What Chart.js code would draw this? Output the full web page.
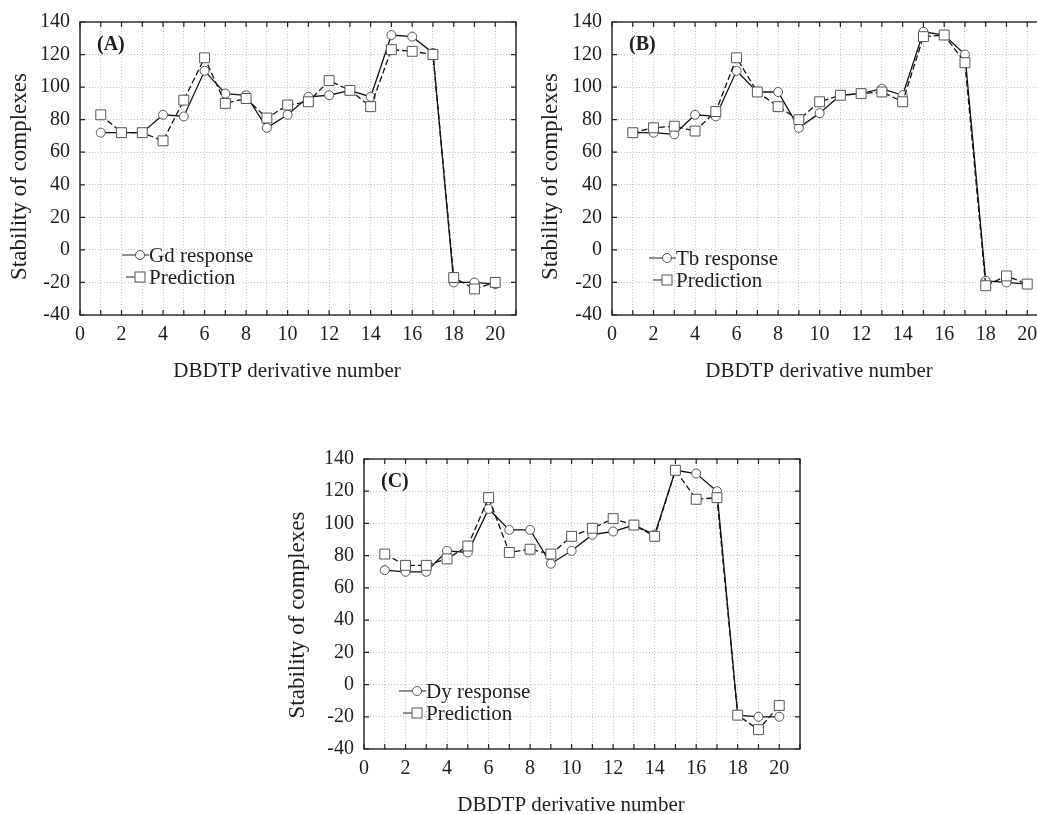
<!DOCTYPE html>
<html>
<head>
<meta charset="utf-8">
<script src="https://cdn.jsdelivr.net/npm/chart.js@4/dist/chart.umd.min.js"></script>
<style>
  html, body { margin: 0; padding: 0; background: #fff; overflow: hidden; }
  body { width: 1037px; height: 814px; position: relative; }
  canvas { position: absolute; }
  #chartA { left: 0px; top: 0px; }
  #chartB { left: 532px; top: 0px; }
  #chartC { left: 284px; top: 437px; }
</style>
</head>
<body>
<canvas id="chartA" width="524" height="387"></canvas>
<canvas id="chartB" width="524" height="387"></canvas>
<canvas id="chartC" width="524" height="384"></canvas>
<script>
const derivatives = [1, 2, 3, 4, 5, 6, 7, 8, 9, 10, 11, 12, 13, 14, 15, 16, 17, 18, 19, 20]

const gdResponse = [72, 72, 72, 83, 82, 110, 96, 95, 75, 83, 94, 95, 98, 94, 132, 131, 121, -20, -20, -21]
const gdPrediction = [83, 72, 72, 67, 92, 118, 90, 93, 81, 89, 91, 104, 98, 88, 123, 122, 120, -17, -24, -20]

const tbResponse = [72, 72, 71, 83, 82, 110, 97, 97, 75, 84, 95, 96, 99, 95, 134, 132, 120, -19, -20, -21]
const tbPrediction = [72, 75, 76, 73, 85, 118, 97, 88, 80, 91, 95, 96, 97, 91, 131, 132, 115, -22, -16, -21]

const dyResponse = [71, 70, 70, 83, 82, 109, 96, 96, 75, 83, 93, 95, 99, 93, 133, 131, 120, -19, -20, -20]
const dyPrediction = [81, 74, 74, 78, 86, 116, 82, 84, 81, 92, 97, 103, 99, 92, 133, 115, 116, -19, -28, -13]

const yTicks = [-40, -20, 0, 20, 40, 60, 80, 100, 120, 140]
const xTickLabels = [0, 2, 4, 6, 8, 10, 12, 14, 16, 18, 20]

const serif = '"Liberation Serif", "Times New Roman", serif'
const textColor = '#1e1e1e'

function toPoints (ys) {
  return derivatives.map((x, i) => ({x: x, y: ys[i]}))
}

// frame, inward ticks, panel label, legend and axis titles
const framePlugin = {
  id: 'frame',
  afterDraw (chart, args, opts) {
    const ctx = chart.ctx
    const area = chart.chartArea
    const xs = chart.scales.x
    const ys = chart.scales.y
    ctx.save()
    ctx.strokeStyle = '#222'
    ctx.lineWidth = 1.4
    ctx.strokeRect(area.left, area.top, area.right - area.left, area.bottom - area.top)

    ctx.lineWidth = 1.2
    ctx.beginPath()
    for (let v = 0; v <= 21; v++) {
      const px = xs.getPixelForValue(v)
      ctx.moveTo(px, area.bottom)
      ctx.lineTo(px, area.bottom - 5)
      ctx.moveTo(px, area.top)
      ctx.lineTo(px, area.top + 5)
    }
    yTicks.forEach((v) => {
      const py = ys.getPixelForValue(v)
      ctx.moveTo(area.left, py)
      ctx.lineTo(area.left + 5, py)
      ctx.moveTo(area.right, py)
      ctx.lineTo(area.right - 5, py)
    })
    ctx.stroke()

    // panel label
    ctx.fillStyle = textColor
    ctx.font = 'bold 20px ' + serif
    ctx.textAlign = 'left'
    ctx.textBaseline = 'middle'
    ctx.fillText(opts.panel, area.left + 17, area.top + 23)

    // legend
    const lx = area.left + opts.legendX
    const ly = area.top + opts.legendY
    ctx.strokeStyle = '#222'
    ctx.lineWidth = 1.2
    ctx.beginPath()
    ctx.moveTo(lx - 18, ly)
    ctx.lineTo(lx + 9, ly)
    ctx.moveTo(lx - 14, ly + 22)
    ctx.lineTo(lx - 5, ly + 22)
    ctx.stroke()
    ctx.fillStyle = '#fff'
    ctx.strokeStyle = '#555'
    ctx.lineWidth = 1
    ctx.beginPath()
    ctx.arc(lx, ly, 4.5, 0, Math.PI * 2)
    ctx.fill()
    ctx.stroke()
    ctx.fillRect(lx - 5, ly + 17, 10, 10)
    ctx.strokeRect(lx - 5, ly + 17, 10, 10)
    ctx.fillStyle = textColor
    ctx.font = '21px ' + serif
    ctx.fillText(opts.seriesName, lx + 9, ly + 1)
    ctx.fillText('Prediction', lx + 9, ly + 23)

    // x title
    ctx.font = '21px ' + serif
    ctx.textAlign = 'center'
    ctx.fillText('DBDTP derivative number', (area.left + area.right) / 2 - 11, area.bottom + 56)

    // y title
    ctx.font = '23px ' + serif
    ctx.translate(area.left + opts.yTitleX, (area.top + area.bottom) / 2 + opts.yTitleDy)
    ctx.rotate(-Math.PI / 2)
    ctx.fillText('Stability of complexes', 0, 0)
    ctx.restore()
  }
}

function makeChart (id, panel, seriesName, response, prediction, legend, yTitle, rightPad) {
  return new Chart(document.getElementById(id), {
    type: 'line',
    data: {
      datasets: [{
        label: 'Prediction',
        data: toPoints(prediction),
        borderColor: '#111',
        borderWidth: 1.3,
        borderDash: [6, 3],
        pointStyle: 'rect',
        pointRadius: 7,
        pointBackgroundColor: '#fff',
        pointBorderColor: '#555',
        pointBorderWidth: 1,
        tension: 0
      }, {
        label: seriesName,
        data: toPoints(response),
        borderColor: '#111',
        borderWidth: 1.3,
        pointStyle: 'circle',
        pointRadius: 4.5,
        pointBackgroundColor: '#fff',
        pointBorderColor: '#555',
        pointBorderWidth: 1,
        tension: 0
      }]
    },
    options: {
      responsive: false,
      animation: false,
      devicePixelRatio: 1,
      layout: {padding: {top: 22, right: rightPad, left: 0, bottom: 0}},
      plugins: {
        legend: {display: false},
        tooltip: {enabled: false},
        frame: {
          panel: panel,
          seriesName: seriesName,
          legendX: legend[0],
          legendY: legend[1],
          yTitleX: yTitle[0],
          yTitleDy: yTitle[1]
        }
      },
      scales: {
        x: {
          type: 'linear',
          min: 0,
          max: 21,
          afterFit: (scale) => {
            scale.height = 72
            scale.paddingLeft = 0
            scale.paddingRight = 0
          },
          grid: {color: '#c4c4c4', lineWidth: 1, drawTicks: false},
          border: {display: false, dash: [1, 2]},
          ticks: {
            stepSize: 1,
            autoSkip: false,
            maxRotation: 0,
            padding: 8,
            color: textColor,
            font: {family: serif, size: 20},
            callback: (v) => xTickLabels.includes(v) ? String(v) : ''
          }
        },
        y: {
          min: -40,
          max: 140,
          afterFit: (scale) => { scale.width = 80 },
          grid: {color: '#c4c4c4', lineWidth: 1, drawTicks: false},
          border: {display: false, dash: [1, 2]},
          ticks: {
            stepSize: 20,
            padding: 10,
            color: textColor,
            font: {family: serif, size: 20}
          }
        }
      }
    },
    plugins: [framePlugin]
  })
}

makeChart('chartA', '(A)', 'Gd response', gdResponse, gdPrediction, [60, 233], [-60, 8], 4)
makeChart('chartB', '(B)', 'Tb response', tbResponse, tbPrediction, [55, 236], [-61, 8], 6)
makeChart('chartC', '(C)', 'Dy response', dyResponse, dyPrediction, [53, 232], [-66, 11], 4)
</script>
</body>
</html>
